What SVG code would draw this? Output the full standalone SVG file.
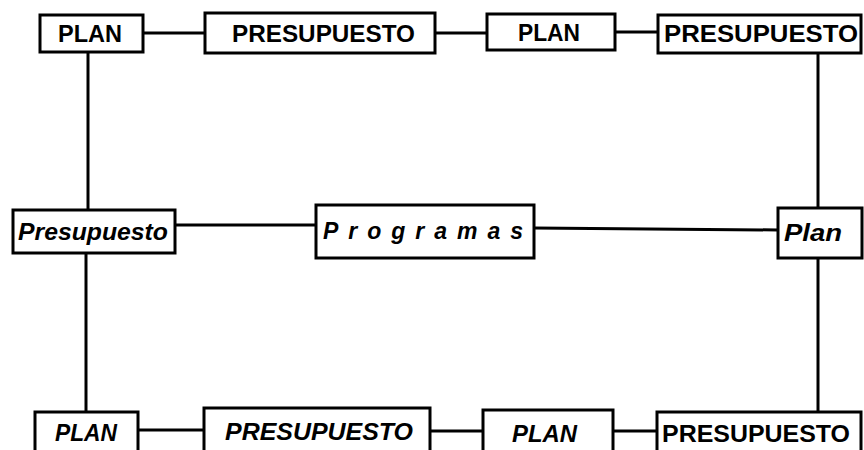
<svg xmlns="http://www.w3.org/2000/svg" width="864" height="450" viewBox="0 0 864 450">
<style>
.box{fill:#fff;stroke:#000;stroke-width:3}
.t{font-family:"Liberation Sans",Arial,sans-serif;font-weight:bold;font-size:23px;fill:#000}
.i{font-style:italic}
.c line{stroke:#000;stroke-width:3}
</style>
<rect width="864" height="450" fill="#fff"/>
<g class="c">
<line x1="143" y1="33" x2="205" y2="33"/>
<line x1="435" y1="33" x2="487" y2="33"/>
<line x1="615" y1="32" x2="658" y2="32"/>
<line x1="88" y1="52" x2="88" y2="210"/>
<line x1="818" y1="53" x2="818" y2="208"/>
<line x1="175" y1="225" x2="316" y2="225"/>
<line x1="534" y1="228" x2="778" y2="230"/>
<line x1="86" y1="253" x2="86" y2="412"/>
<line x1="818" y1="258" x2="818" y2="412"/>
<line x1="137" y1="430" x2="204" y2="430"/>
<line x1="430" y1="431" x2="483" y2="431"/>
<line x1="613" y1="431" x2="657" y2="431"/>
</g>
<g id="plan1"><rect class="box" x="40" y="15" width="103" height="37"/><text class="t" x="58" y="42" textLength="64" lengthAdjust="spacingAndGlyphs">PLAN</text></g>
<g id="presupuesto1"><rect class="box" x="205" y="13" width="230" height="40"/><text class="t" x="232" y="42" textLength="183" lengthAdjust="spacingAndGlyphs">PRESUPUESTO</text></g>
<g id="plan2"><rect class="box" x="487" y="14" width="128" height="36"/><text class="t" x="518" y="41" textLength="62" lengthAdjust="spacingAndGlyphs">PLAN</text></g>
<g id="presupuesto2"><rect class="box" x="658" y="15" width="203" height="38"/><text class="t" x="664" y="42" textLength="194" lengthAdjust="spacingAndGlyphs">PRESUPUESTO</text></g>
<g id="presupuesto-mid"><rect class="box" x="13" y="210" width="162" height="43"/><text class="t i" x="18" y="240" font-size="24" textLength="150" lengthAdjust="spacingAndGlyphs">Presupuesto</text></g>
<g id="programas"><rect class="box" x="316" y="205" width="218" height="53"/><text class="t i" x="323" y="239" font-size="24" textLength="200" lengthAdjust="spacing">Programas</text></g>
<g id="plan-mid"><rect class="box" x="778" y="208" width="84" height="50"/><text class="t i" x="784" y="241" font-size="24" textLength="58" lengthAdjust="spacingAndGlyphs">Plan</text></g>
<g id="plan3"><rect class="box" x="35" y="412" width="103" height="45"/><text class="t i" x="55" y="441" font-size="24" textLength="62" lengthAdjust="spacingAndGlyphs">PLAN</text></g>
<g id="presupuesto3"><rect class="box" x="204" y="408" width="226" height="49"/><text class="t i" x="225" y="440" font-size="24" textLength="188" lengthAdjust="spacingAndGlyphs">PRESUPUESTO</text></g>
<g id="plan4"><rect class="box" x="483" y="410" width="130" height="47"/><text class="t i" x="512" y="442" font-size="24" textLength="65" lengthAdjust="spacingAndGlyphs">PLAN</text></g>
<g id="presupuesto4"><rect class="box" x="657" y="412" width="204" height="45"/><text class="t" x="662" y="442" font-size="24" textLength="188" lengthAdjust="spacingAndGlyphs">PRESUPUESTO</text></g>
</svg>
